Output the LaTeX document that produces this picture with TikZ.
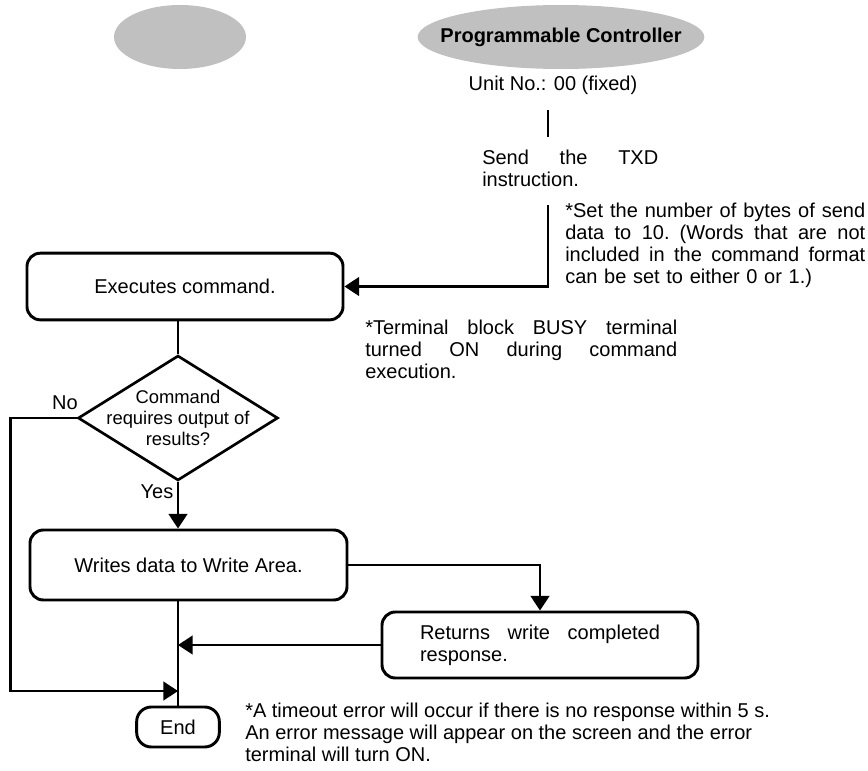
\documentclass[tikz,border=0pt]{standalone}
\usepackage{fontspec}
\setmainfont{Liberation Sans}
\usepackage{tikz}
\usetikzlibrary{arrows.meta,positioning,shapes.geometric,calc}
\definecolor{blobgray}{HTML}{C0C0C0}
\newcommand{\jline}[2]{\makebox[#1][s]{\spaceskip=0.278em plus 1fil\relax #2}}
\tikzset{
  txt/.style={font=\fontsize{15}{16.5}\selectfont,inner sep=0pt},
  box/.style={txt,draw,line width=2.2pt,rounded corners=10pt,align=center},
  blob/.style={txt,ellipse,fill=blobgray},
  decis/.style={diamond,draw,line width=2pt,inner sep=-20pt,align=center,font=\fontsize{13.8}{15.75}\selectfont},
  note/.style={txt,align=left,anchor=west},
  lbl/.style={txt},
  ln/.style={line width=1.8pt},
  arr/.style={ln,-{Triangle[length=11pt,width=14pt]}},
}
\begin{document}
\begin{tikzpicture}[x=0.75pt,y=-0.75pt]
\useasboundingbox (0,0) rectangle (868,771);
\node[blob,minimum width=99pt,minimum height=48pt] (hostblob) at (180,37) {};
\node[blob,inner xsep=-15pt,minimum width=215pt,minimum height=48pt,font=\fontsize{15}{16.5}\selectfont\bfseries] (pc) at (561,37) {Programmable Controller};
\node[lbl] (unit) at (553,85) {Unit No.: 00 (fixed)};
\node[note,text width=132pt] (txd) at (482,168) {\jline{132pt}{Send the TXD}\\instruction.};
\node[note,text width=225pt] (bytes) at (565,245) {\jline{225pt}{*Set the number of bytes of send}\\\jline{225pt}{data to 10. (Words that are not}\\\jline{225pt}{included in the command format}\\can be set to either 0 or 1.)};
\node[box,minimum width=237pt,minimum height=50pt] (exec) at (185,286.5) {Executes command.};
\node[note,text width=234pt] (busy) at (365,349.5) {\jline{234pt}{*Terminal block BUSY terminal}\\\jline{234pt}{turned ON during command}\\execution.};
\node[decis,minimum width=150pt,minimum height=93.75pt] (dec) at (178,418) {Command\\requires output of\\results?};
\node[lbl] (no) at (65,403) {No};
\node[lbl] (yes) at (157,492) {Yes};
\node[box,minimum width=237.75pt,minimum height=52.5pt] (write) at (188.5,565) {Writes data to Write Area.};
\node[box,minimum width=237pt,minimum height=49.5pt,text width=180pt,align=left] (ret) at (540,645) {\jline{180pt}{Returns write completed}\\response.};
\node[box,minimum width=62pt,minimum height=30pt,rounded corners=11pt] (end) at (178,727) {End};
\node[note] (timeout) at (245,732) {*A timeout error will occur if there is no response within 5 s.\\An error message will appear on the screen and the error\\terminal will turn ON.};
\coordinate (u1) at (548,110);
\coordinate (u2) at (548,137);
\coordinate (s1) at (548,205);
\coordinate (join) at (178,691);
\draw[ln] (u1) -- (u2);
\draw[arr] (s1) |- (exec.east);
\draw[ln] (exec.south -| dec.north) -- (dec.north);
\draw[arr] (dec.south) -- (dec.south |- write.north);
\draw[arr] (write.east) -| (ret.north);
\draw[arr] (ret.west) -- (ret.west -| dec.south);
\draw[arr] (dec.west) -- ++(-66,0) |- (join);
\draw[ln] (write.south -| dec.south) -- (end.north);
\end{tikzpicture}
\end{document}
